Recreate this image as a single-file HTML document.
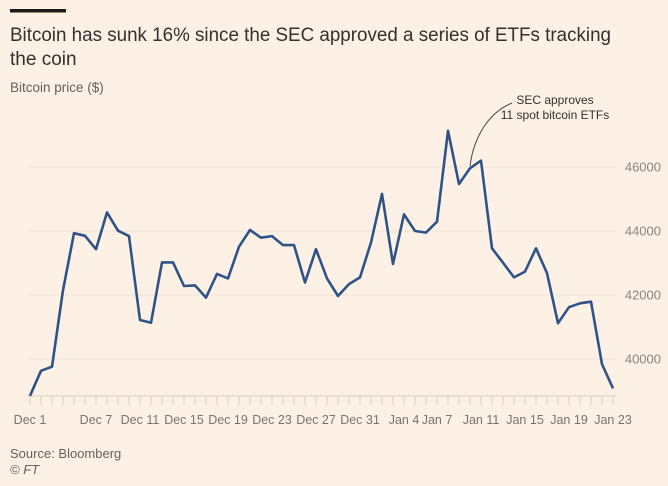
<!DOCTYPE html>
<html><head><meta charset="utf-8"><style>
html,body{margin:0;padding:0;background:#fdf1e6;}
svg{display:block;font-family:"Liberation Sans",sans-serif;}
</style></head><body>
<svg id="chart" width="668" height="486" viewBox="0 0 668 486">
<rect x="0" y="0" width="668" height="486" fill="#fdf1e6"/>
<rect x="10" y="9" width="56" height="3.5" fill="#1a1a1a"/>
<text x="10" y="41" font-size="19" fill="#33302e" textLength="601" lengthAdjust="spacingAndGlyphs">Bitcoin has sunk 16% since the SEC approved a series of ETFs tracking</text>
<text x="10" y="65" font-size="19" fill="#33302e">the coin</text>
<text x="10" y="92" font-size="13.5" fill="#66605c">Bitcoin price ($)</text>
<g id="grid"></g>
<g id="yticks"></g>
<g id="xaxis"></g>
<path id="line" fill="none" stroke="#2f5287" stroke-width="2.6" stroke-linejoin="round"/>
<path d="M512,103 C490,112 474,135 470,166" fill="none" stroke="#4a4540" stroke-width="1"/>
<text x="555" y="104" font-size="12" fill="#33302e" text-anchor="middle">SEC approves</text>
<text x="555" y="119" font-size="12" fill="#33302e" text-anchor="middle">11 spot bitcoin ETFs</text>
<text x="10" y="458" font-size="13" fill="#66605c">Source: Bloomberg</text>
<text x="10" y="474" font-size="13" fill="#66605c" font-style="italic">© FT</text>
</svg>
<script>
const values = [38850,39630,39760,42150,43930,43850,43430,44580,44010,43840,41220,41130,43020,43020,42280,42300,41920,42660,42520,43510,44030,43790,43840,43560,43560,42390,43430,42520,41970,42340,42550,43640,45160,42970,44520,44000,43950,44290,47130,45470,45960,46200,43460,43010,42550,42730,43460,42680,41120,41620,41740,41790,39840,39080];
const xTickLabels = ["Dec 1","Dec 7","Dec 11","Dec 15","Dec 19","Dec 23","Dec 27","Dec 31","Jan 4","Jan 7","Jan 11","Jan 15","Jan 19","Jan 23"];
const xTickDays = [0,6,10,14,18,22,26,30,34,37,41,45,49,53];
const yTicks = [40000,42000,44000,46000];

const NS="http://www.w3.org/2000/svg";
const x0=30, x1=613, yBase=396;
const xs = d => x0 + d*(x1-x0)/(values.length-1);
const ys = v => 167 + (46000 - v)*64/2000;
const grid=document.getElementById('grid'), yg=document.getElementById('yticks'), xg=document.getElementById('xaxis');
yTicks.forEach(t=>{
  const l=document.createElementNS(NS,'line');
  l.setAttribute('x1',27);l.setAttribute('x2',616);l.setAttribute('y1',ys(t));l.setAttribute('y2',ys(t));
  l.setAttribute('stroke','#efe3d7');l.setAttribute('stroke-width','1');
  
  
  grid.appendChild(l);
  const tx=document.createElementNS(NS,'text');
  tx.setAttribute('x',661);tx.setAttribute('y',ys(t)+4.5);tx.setAttribute('text-anchor','end');
  tx.setAttribute('font-size','13');tx.setAttribute('fill','#8a837d');
  tx.textContent=t;
  
  
  yg.appendChild(tx);
});
const base=document.createElementNS(NS,'line');
base.setAttribute('x1',27);base.setAttribute('x2',616);base.setAttribute('y1',yBase);base.setAttribute('y2',yBase);
base.setAttribute('stroke','#d9cdc1');


xg.appendChild(base);
for(let d=0; d<values.length; d++){
  const t=document.createElementNS(NS,'line');
  t.setAttribute('x1',xs(d));t.setAttribute('x2',xs(d));t.setAttribute('y1',yBase);t.setAttribute('y2',yBase+9);
  t.setAttribute('stroke','#d9cdc1');
  
  
  xg.appendChild(t);
}
xTickLabels.forEach((lab,i)=>{
  const tx=document.createElementNS(NS,'text');
  tx.setAttribute('x',xs(xTickDays[i]));tx.setAttribute('y',424);tx.setAttribute('text-anchor','middle');
  tx.setAttribute('font-size','12.5');tx.setAttribute('fill','#7a736d');
  tx.textContent=lab;
  
  
  xg.appendChild(tx);
});
document.getElementById('line').setAttribute('d', values.map((v,i)=>(i?'L':'M')+xs(i).toFixed(1)+','+ys(v).toFixed(1)).join(' '));
</script>
</body></html>
